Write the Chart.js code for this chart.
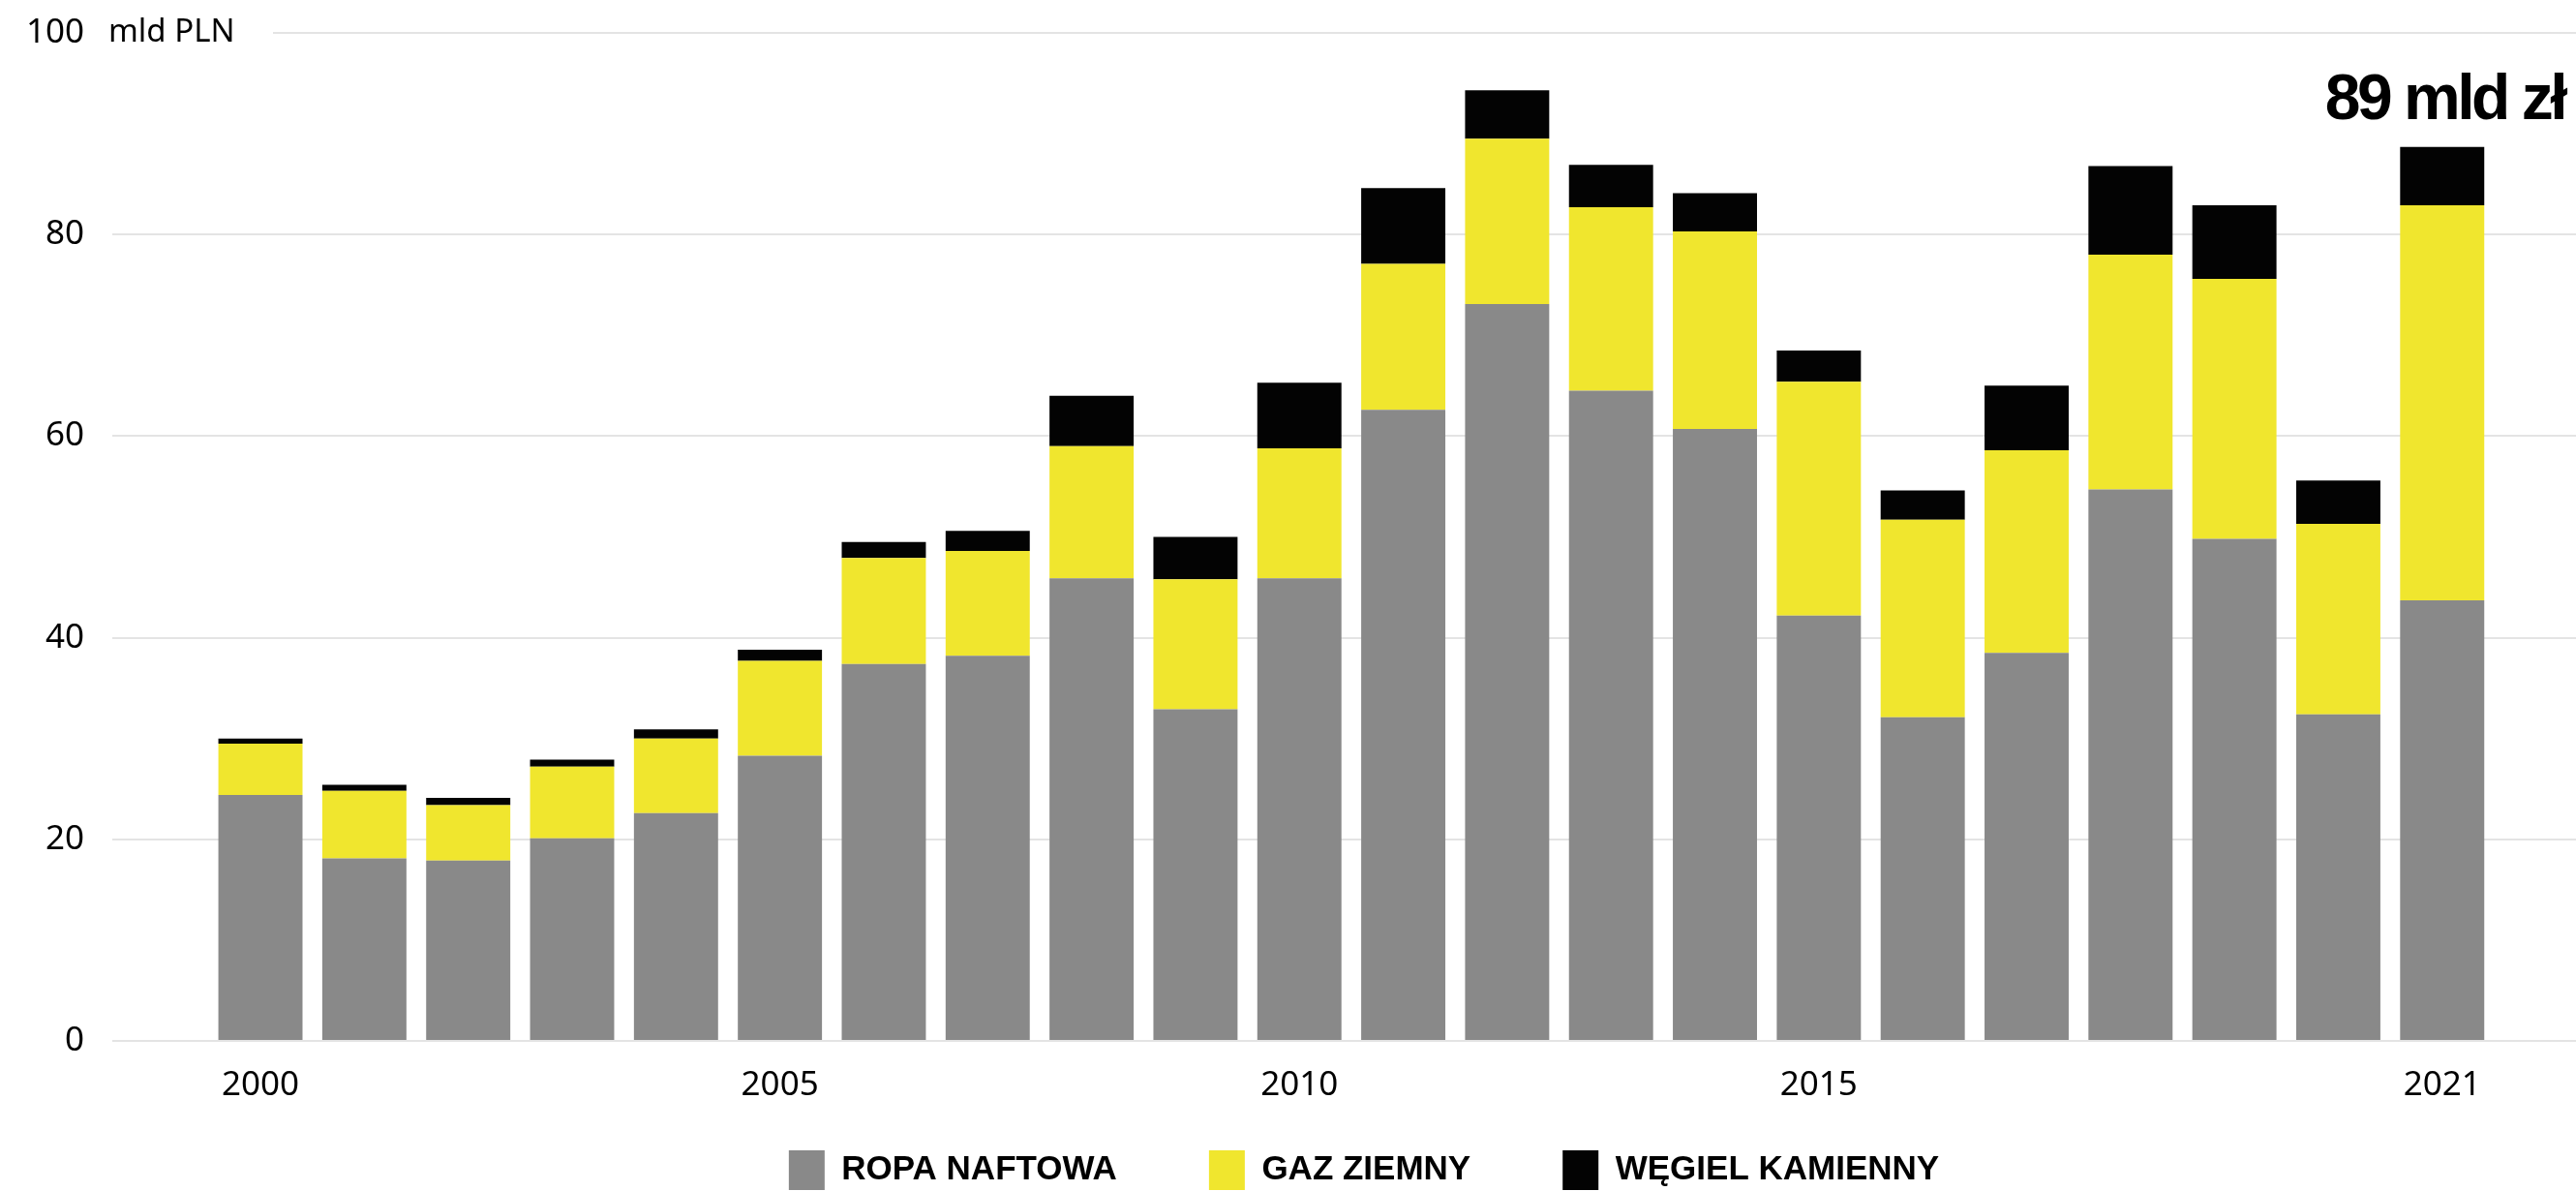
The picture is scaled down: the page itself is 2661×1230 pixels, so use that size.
<!DOCTYPE html>
<html>
<head>
<meta charset="utf-8">
<script src="https://cdn.jsdelivr.net/npm/chart.js@4"></script>
<style>
  html, body { margin: 0; padding: 0; background: #fff; }
  #wrap { width: 2661px; height: 1230px; position: relative; overflow: hidden; }
</style>
</head>
<body>
<div id="wrap"><canvas id="c"></canvas></div>
<script>
const years = [2000, 2001, 2002, 2003, 2004, 2005, 2006, 2007, 2008, 2009, 2010,
               2011, 2012, 2013, 2014, 2015, 2016, 2017, 2018, 2019, 2020, 2021];
const ropaNaftowa = [24.4, 18.1, 17.9, 20.1, 22.6, 28.3, 37.4, 38.2, 45.9, 32.9, 45.9,
                     62.6, 73.1, 64.5, 60.7, 42.2, 32.1, 38.5, 54.7, 49.8, 32.4, 43.7];
const gazZiemny = [5.1, 6.7, 5.5, 7.1, 7.4, 9.4, 10.5, 10.4, 13.1, 12.9, 12.9,
                   14.5, 16.4, 18.2, 19.6, 23.2, 19.6, 20.1, 23.3, 25.8, 18.9, 39.2];
const wegielKamienny = [0.5, 0.6, 0.7, 0.7, 0.9, 1.1, 1.6, 2.0, 5.0, 4.2, 6.5,
                        7.5, 4.8, 4.2, 3.8, 3.1, 2.9, 6.4, 8.8, 7.3, 4.3, 5.8];
const seriesNames = ['ROPA NAFTOWA', 'GAZ ZIEMNY', 'WĘGIEL KAMIENNY'];
const xTickYears = [2000, 2005, 2010, 2015, 2021];
const yTickValues = [0, 20, 40, 60, 80, 100];
const unitLabel = 'mld PLN';
const totalLabel = '89 mld zł';

const COLORS = ['#898989', '#f0e62e', '#030303'];
const TICK_FONT = { family: "'Noto Sans', 'Open Sans', sans-serif", size: 35 };

const overlayPlugin = {
  id: 'overlay',
  afterDraw(chart) {
    const ctx = chart.ctx;
    const y = chart.scales.y;
    const area = chart.chartArea;
    const yTop = y.getPixelForValue(yTickValues[yTickValues.length - 1]);
    ctx.save();
    // unit label next to the top tick, masking the start of the top grid line
    ctx.fillStyle = '#ffffff';
    ctx.fillRect(area.left - 2, yTop - 5, 168, 10);
    ctx.fillStyle = '#000000';
    ctx.font = "33px 'Noto Sans', 'Open Sans', sans-serif";
    ctx.textAlign = 'left';
    ctx.textBaseline = 'middle';
    ctx.fillText(unitLabel, area.left - 4, yTop);
    // total annotation top right
    ctx.font = "bold 66px 'Liberation Sans', Arial, sans-serif";
    try { ctx.letterSpacing = '-3.5px'; } catch (e) {}
    ctx.textAlign = 'right';
    ctx.textBaseline = 'alphabetic';
    ctx.fillText(totalLabel, chart.width - 12, 123);
    ctx.restore();
  }
};

new Chart(document.getElementById('c'), {
  type: 'bar',
  data: {
    labels: years,
    datasets: [
      { label: seriesNames[0], data: ropaNaftowa, backgroundColor: COLORS[0] },
      { label: seriesNames[1], data: gazZiemny, backgroundColor: COLORS[1] },
      { label: seriesNames[2], data: wegielKamienny, backgroundColor: COLORS[2] }
    ]
  },
  options: {
    responsive: true,
    maintainAspectRatio: false,
    animation: false,
    devicePixelRatio: 1,
    categoryPercentage: 0.81,
    barPercentage: 1,
    layout: { padding: { top: 34, left: 0, right: -157, bottom: -9 } },
    scales: {
      x: {
        type: 'linear',
        stacked: true,
        offset: false,
        min: 1998.574,
        max: 2022.288,
        grid: { display: false, drawTicks: false },
        border: { display: false },
        afterBuildTicks(scale) { scale.ticks = xTickYears.map(v => ({ value: v })); },
        afterFit(scale) { scale.height = 18; },
        ticks: {
          color: '#000',
          font: TICK_FONT,
          mirror: true,
          padding: -67,
          autoSkip: false,
          maxRotation: 0,
          callback: (v) => String(v)
        }
      },
      y: {
        stacked: true,
        min: 0,
        max: 100,
        afterBuildTicks(scale) { scale.ticks = yTickValues.map(v => ({ value: v })); },
        afterFit(scale) { scale.width = 116; scale.paddingTop = 0; scale.paddingBottom = 0; },
        grid: { color: '#e4e4e4', lineWidth: 2, drawTicks: false },
        border: { display: false },
        ticks: { color: '#000', font: TICK_FONT, padding: 29 }
      }
    },
    plugins: {
      tooltip: { enabled: false },
      legend: {
        position: 'bottom',
        fullSize: true,
        labels: {
          color: '#000',
          font: { family: "'Liberation Sans', Arial, sans-serif", size: 35, weight: 'bold' },
          boxWidth: 37,
          boxHeight: 41,
          padding: 95
        }
      }
    }
  },
  plugins: [overlayPlugin]
});
</script>
</body>
</html>
